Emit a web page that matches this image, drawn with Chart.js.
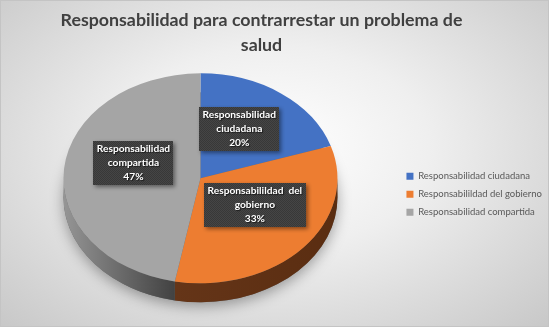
<!DOCTYPE html>
<html>
<head>
<meta charset="utf-8">
<script src="https://cdn.jsdelivr.net/npm/chart.js@4.4.1/dist/chart.umd.min.js"></script>
<style>
  html, body { margin: 0; padding: 0; }
  body { width: 549px; height: 327px; overflow: hidden; }
  #wrap {
    position: relative; width: 549px; height: 327px; box-sizing: border-box;
    border: 1px solid #c4c4c4;
    background: radial-gradient(ellipse at 50% 45%, #ffffff 0%, #efefef 40%, #c8c8c8 100%);
  }
</style>
</head>
<body>
<div id="wrap"><canvas id="myChart"></canvas></div>
<script>
var titleLines = ['Responsabilidad para contrarrestar un problema de', 'salud'];
var categories = ['Responsabilidad ciudadana', 'Responsabilildad del gobierno', 'Responsabilidad compartida'];
var shares = [20, 33, 47];
var pctLabels = ['20%', '33%', '47%'];
var labelLines = [['Responsabilidad', 'ciudadana'], ['Responsabilildad  del', 'gobierno'], ['Responsabilidad', 'compartida']];

var sliceColors = ['#4472c4', '#ed7d31', '#a5a5a5'];
var sideColors = [['#2c4c86', '#22407a'], ['#653518', '#5a2d11'], ['#959595', '#424242']];

// checkered fill for the label boxes
function makePattern(ctx) {
  var c = document.createElement('canvas');
  c.width = 2; c.height = 2;
  var p = c.getContext('2d');
  p.fillStyle = '#454545'; p.fillRect(0, 0, 2, 2);
  p.fillStyle = '#383838'; p.fillRect(0, 0, 1, 1); p.fillRect(1, 1, 1, 1);
  return ctx.createPattern(c, 'repeat');
}

// title is centred a bit left of the canvas middle, like the original
var titleShift = {
  id: 'titleShift',
  afterLayout: function (chart, args, opts) {
    if (chart.titleBlock) chart.titleBlock.right -= opts.right;
  }
};

// squashes the pie into an ellipse and adds the 3D rim
var tiltPlugin = {
  id: 'tilt',
  beforeDatasetsDraw: function (chart, args, opts) {
    var arcs = chart.getDatasetMeta(0).data;
    if (!arcs.length) return;
    var ctx = chart.ctx;
    var cx = arcs[0].x, cy = arcs[0].y, r = arcs[0].outerRadius;
    var ry = r * opts.tilt, top = cy - opts.lift;

    ctx.save();
    ctx.shadowColor = 'rgba(0,0,0,0.35)';
    ctx.shadowBlur = 14;
    ctx.shadowOffsetY = 4;
    ctx.beginPath();
    ctx.ellipse(cx, top + opts.depth, r, ry, 0, 0, Math.PI * 2);
    ctx.fillStyle = '#666';
    ctx.fill();
    ctx.restore();

    arcs.forEach(function (arc, i) {
      var a1 = Math.max(arc.startAngle, 0), a2 = Math.min(arc.endAngle, Math.PI);
      if (a2 <= a1) return;
      var xa = cx + Math.cos(a1) * r, xb = cx + Math.cos(a2) * r;
      var g = ctx.createLinearGradient(Math.min(xa, xb), 0, Math.max(xa, xb), 0);
      g.addColorStop(0, opts.sideColors[i][0]);
      g.addColorStop(1, opts.sideColors[i][1]);
      ctx.beginPath();
      ctx.ellipse(cx, top, r, ry, 0, a1, a2);
      ctx.ellipse(cx, top + opts.depth, r, ry, 0, a2, a1, true);
      ctx.closePath();
      ctx.fillStyle = g;
      ctx.fill();
    });

    ctx.save();
    ctx.translate(cx, top);
    ctx.scale(1, opts.tilt);
    ctx.translate(-cx, -cy);
  },
  afterDatasetsDraw: function (chart, args, opts) {
    var arcs = chart.getDatasetMeta(0).data;
    if (!arcs.length) return;
    var ctx = chart.ctx;
    ctx.restore();
    var cx = arcs[0].x, cy = arcs[0].y, r = arcs[0].outerRadius;
    var top = cy - opts.lift;
    var pattern = makePattern(ctx);

    arcs.forEach(function (arc, i) {
      var mid = (arc.startAngle + arc.endAngle) / 2 + opts.nudge[i] * Math.PI / 180;
      var x = cx + Math.cos(mid) * r * opts.labelRadius[i];
      var y = top + Math.sin(mid) * r * opts.labelRadius[i] * opts.tilt;
      var lines = labelLines[i].concat(pctLabels[i]);
      ctx.save();
      ctx.font = 'bold 10.2px Lato';
      var w = 0;
      lines.forEach(function (t) { w = Math.max(w, ctx.measureText(t).width); });
      var lh = 14;
      var bw = Math.round(w + 7), bh = Math.round(lines.length * lh + 2);
      var bx = Math.round(x - bw / 2), by = Math.round(y - bh / 2);
      ctx.shadowColor = 'rgba(0,0,0,0.45)';
      ctx.shadowBlur = 4;
      ctx.shadowOffsetX = 2;
      ctx.shadowOffsetY = 2;
      ctx.fillStyle = pattern;
      ctx.fillRect(bx, by, bw, bh);
      ctx.shadowColor = 'rgba(0,0,0,0.6)';
      ctx.shadowBlur = 1;
      ctx.shadowOffsetX = 1;
      ctx.shadowOffsetY = 1;
      ctx.fillStyle = '#ffffff';
      ctx.textAlign = 'center';
      ctx.textBaseline = 'middle';
      lines.forEach(function (t, k) {
        ctx.fillText(t, x, by + 1 + lh * (k + 0.5));
      });
      ctx.restore();
    });
  }
};

var ctx = document.getElementById('myChart');
var config = {
  type: 'pie',
  data: {
    labels: categories,
    datasets: [
      {
        data: shares,
        backgroundColor: sliceColors,
        borderWidth: 0,
        radius: 137,
        clip: false,
      },
    ],
  },
  options: {
    responsive: true,
    maintainAspectRatio: false,
    animation: false,
    layout: { padding: { left: 2, right: -4, bottom: 0 } },
    plugins: {
      title: {
        display: true,
        text: titleLines,
        color: '#404040',
        font: { family: 'Lato', size: 17.8, weight: 'bold', lineHeight: 1.45 },
        padding: { top: 6, bottom: 4 },
      },
      legend: {
        position: 'right',
        fullSize: false,
        labels: {
          boxWidth: 7,
          boxHeight: 7,
          color: '#595959',
          font: { family: 'Lato', size: 9.5 },
          padding: 8.5,
        },
      },
      tooltip: { enabled: false },
      titleShift: { right: 32 },
      tilt: {
        tilt: 0.766,
        depth: 19,
        lift: 16,
        sideColors: sideColors,
        labelRadius: [0.55, 0.47, 0.51],
        nudge: [-5, -9, 11],
      },
    },
  },
  plugins: [titleShift, tiltPlugin],
};
var pieChart = new Chart(ctx, config);
</script>
</body>
</html>
